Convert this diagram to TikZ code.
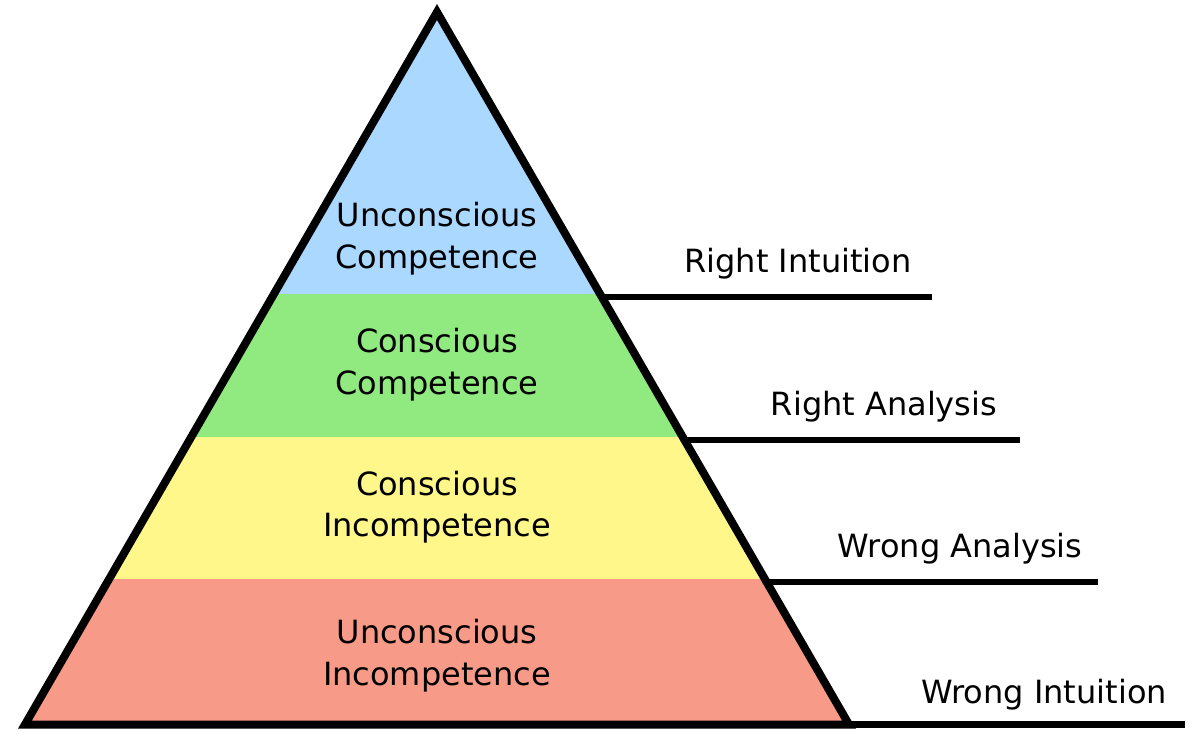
\documentclass[tikz,border=0pt]{standalone}
\usepackage{fontspec}
\setmainfont{DejaVu Sans}
\usetikzlibrary{calc}
\definecolor{bandblue}{RGB}{170,216,255}
\definecolor{bandgreen}{RGB}{145,234,128}
\definecolor{bandyellow}{RGB}{255,247,138}
\definecolor{bandred}{RGB}{247,154,136}
\tikzset{
  lbl/.style={anchor=base,inner sep=0pt,font=\fontsize{32}{40}\selectfont},
  outline/.style={line width=8pt,line join=miter,draw=black},
  levelline/.style={line width=6.5pt,draw=black}
}
\begin{document}
\begin{tikzpicture}[x=1pt,y=-1pt]
\useasboundingbox (0,0) rectangle (1200,743);
\coordinate (apex) at (437,12);
\coordinate (bl) at (25,724.5);
\coordinate (br) at (849,724.5);
% bands
\begin{scope}
  \clip (apex) -- (bl) -- (br) -- cycle;
  \fill[bandblue] (0,0) rectangle (1200,294);
  \fill[bandgreen] (0,294) rectangle (1200,437);
  \fill[bandyellow] (0,437) rectangle (1200,579);
  \fill[bandred] (0,579) rectangle (1200,743);
\end{scope}
% level lines
\coordinate (p1) at ($(apex)!0.4003!(br)$);
\coordinate (p2) at ($(apex)!0.6011!(br)$);
\coordinate (p3) at ($(apex)!0.8006!(br)$);
\coordinate (e1) at (932,297);
\coordinate (e2) at (1020,440);
\coordinate (e3) at (1098,582);
\coordinate (e4) at (1185,724.5);
\draw[levelline] (p1 |- e1) -- (e1);
\draw[levelline] (p2 |- e2) -- (e2);
\draw[levelline] (p3 |- e3) -- (e3);
\draw[levelline] (br) -- (e4);
% triangle outline
\draw[outline] (apex) -- (bl) -- (br) -- cycle;
% band labels
\node[lbl] (a1) at (437,227) {Unconscious};
\node[lbl] (a2) at (437,269) {Competence};
\node[lbl] (b1) at (437,353) {Conscious};
\node[lbl] (b2) at (437,395) {Competence};
\node[lbl] (c1) at (437,495) {Conscious};
\node[lbl] (c2) at (437,536) {Incompetence};
\node[lbl] (d1) at (437,643) {Unconscious};
\node[lbl] (d2) at (437,685) {Incompetence};
% right labels
\node[lbl] (r1) at (798,273) {Right Intuition};
\node[lbl] (r2) at (884,415) {Right Analysis};
\node[lbl] (r3) at (960,557) {Wrong Analysis};
\node[lbl] (r4) at (1044,703) {Wrong Intuition};
\end{tikzpicture}
\end{document}
